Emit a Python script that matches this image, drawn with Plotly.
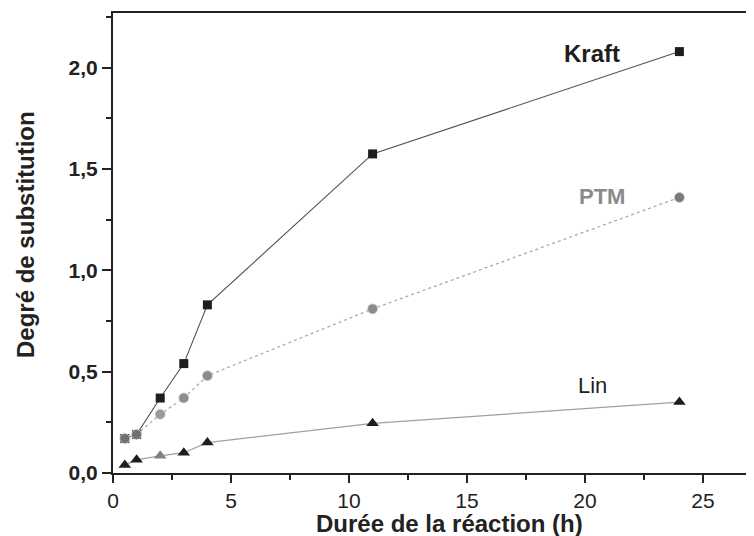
import plotly.graph_objects as go

# Data
time_h = [0.5, 1, 2, 3, 4, 11, 24]
kraft = [0.17, 0.19, 0.37, 0.54, 0.83, 1.575, 2.08]
ptm = [0.17, 0.19, 0.29, 0.37, 0.48, 0.81, 1.36]
lin = [0.04, 0.065, 0.085, 0.10, 0.15, 0.245, 0.35]

x_ticks = [0, 5, 10, 15, 20, 25]
y_ticks = [0.0, 0.5, 1.0, 1.5, 2.0]
y_tick_text = ["0,0", "0,5", "1,0", "1,5", "2,0"]

FONT = "Liberation Sans, Arial, sans-serif"

# page has an 8px body margin: compensate
OFF = 8
L = 113 - OFF
T = 13 - OFF
PW = 754 - L          # plot width in figure px
PH = 460              # plot height
B = 536 - T - PH
XPX = 23.6            # px per hour
YPX = 202.6           # px per unit

fig = go.Figure()

fig.add_trace(go.Scatter(
    x=time_h, y=kraft, mode="lines+markers", name="Kraft",
    line=dict(color="#505050", width=1.1),
    marker=dict(symbol="square", size=9, color="#1e1e1e"),
    showlegend=False,
))
fig.add_trace(go.Scatter(
    x=time_h, y=ptm, mode="lines+markers", name="PTM",
    line=dict(color="#aaaaaa", width=1.3, dash="dot"),
    marker=dict(symbol="circle", size=10,
                color=["#707070", "#707070", "#9a9a9a", "#8c8c8c", "#8c8c8c", "#8c8c8c", "#7a7a7a"],
                line=dict(color="#d0d0d0", width=0.8)),
    showlegend=False,
))
fig.add_trace(go.Scatter(
    x=time_h, y=lin, mode="lines+markers", name="Lin",
    line=dict(color="#a0a0a0", width=1.3),
    marker=dict(symbol="triangle-up", size=11,
                color=["#1e1e1e", "#1e1e1e", "#808080", "#1e1e1e", "#1e1e1e", "#1e1e1e", "#1e1e1e"]),
    showlegend=False,
))

# Series labels
fig.add_annotation(x=20.3, y=2.073, text="<b>Kraft</b>", showarrow=False,
                   font=dict(family=FONT, size=24, color="#1e1e1e"))
fig.add_annotation(x=20.7, y=1.365, text="<b>PTM</b>", showarrow=False,
                   font=dict(family=FONT, size=22, color="#8a8a8a"))
fig.add_annotation(x=20.3, y=0.43, text="Lin", showarrow=False,
                   font=dict(family=FONT, size=22, color="#222222"))

# Axis titles
fig.add_annotation(x=(449 - 113) / PW, y=-(523 - 473) / PH, xref="paper", yref="paper",
                   xanchor="center", yanchor="middle",
                   text="<b>Durée de la réaction (h)</b>", showarrow=False,
                   font=dict(family=FONT, size=24, color="#222222"))
fig.add_annotation(x=-(113 - 25) / PW, y=(473 - 235) / PH, xref="paper", yref="paper",
                   xanchor="center", yanchor="middle",
                   text="<b>Degré de substitution</b>", textangle=-90, showarrow=False,
                   font=dict(family=FONT, size=24, color="#222222"))

fig.update_layout(
    width=754, height=536,
    margin=dict(l=L, r=0, t=T, b=B, autoexpand=False),
    paper_bgcolor="white", plot_bgcolor="white",
    font=dict(family=FONT, size=20, color="#222222"),
)

fig.update_xaxes(
    range=[0, PW / XPX], tickvals=x_ticks,
    showline=True, linecolor="#222222", linewidth=2, mirror=True,
    ticks="outside", ticklen=8, tickwidth=1.5, tickcolor="#222222",
    minor=dict(tickvals=[2.5, 7.5, 12.5, 17.5, 22.5], ticks="outside", ticklen=5, tickwidth=1.5, tickcolor="#222222"),
    showgrid=False, zeroline=False, automargin=False,
    tickfont=dict(family=FONT, size=21, color="#222222"), tickprefix="<b>", ticksuffix="</b>",
)
fig.update_yaxes(
    range=[0, PH / YPX], tickvals=y_ticks, ticktext=["<b>" + t + "</b>" for t in y_tick_text],
    showline=True, linecolor="#222222", linewidth=2,
    ticks="outside", ticklen=9, tickwidth=1.5, tickcolor="#222222",
    minor=dict(tickvals=[0.25, 0.75, 1.25, 1.75, 2.25], ticks="outside", ticklen=5, tickwidth=1.5, tickcolor="#222222"),
    showgrid=False, zeroline=False, automargin=False,
    tickfont=dict(family=FONT, size=21, color="#222222"),
)

fig.write_html("out.html")
